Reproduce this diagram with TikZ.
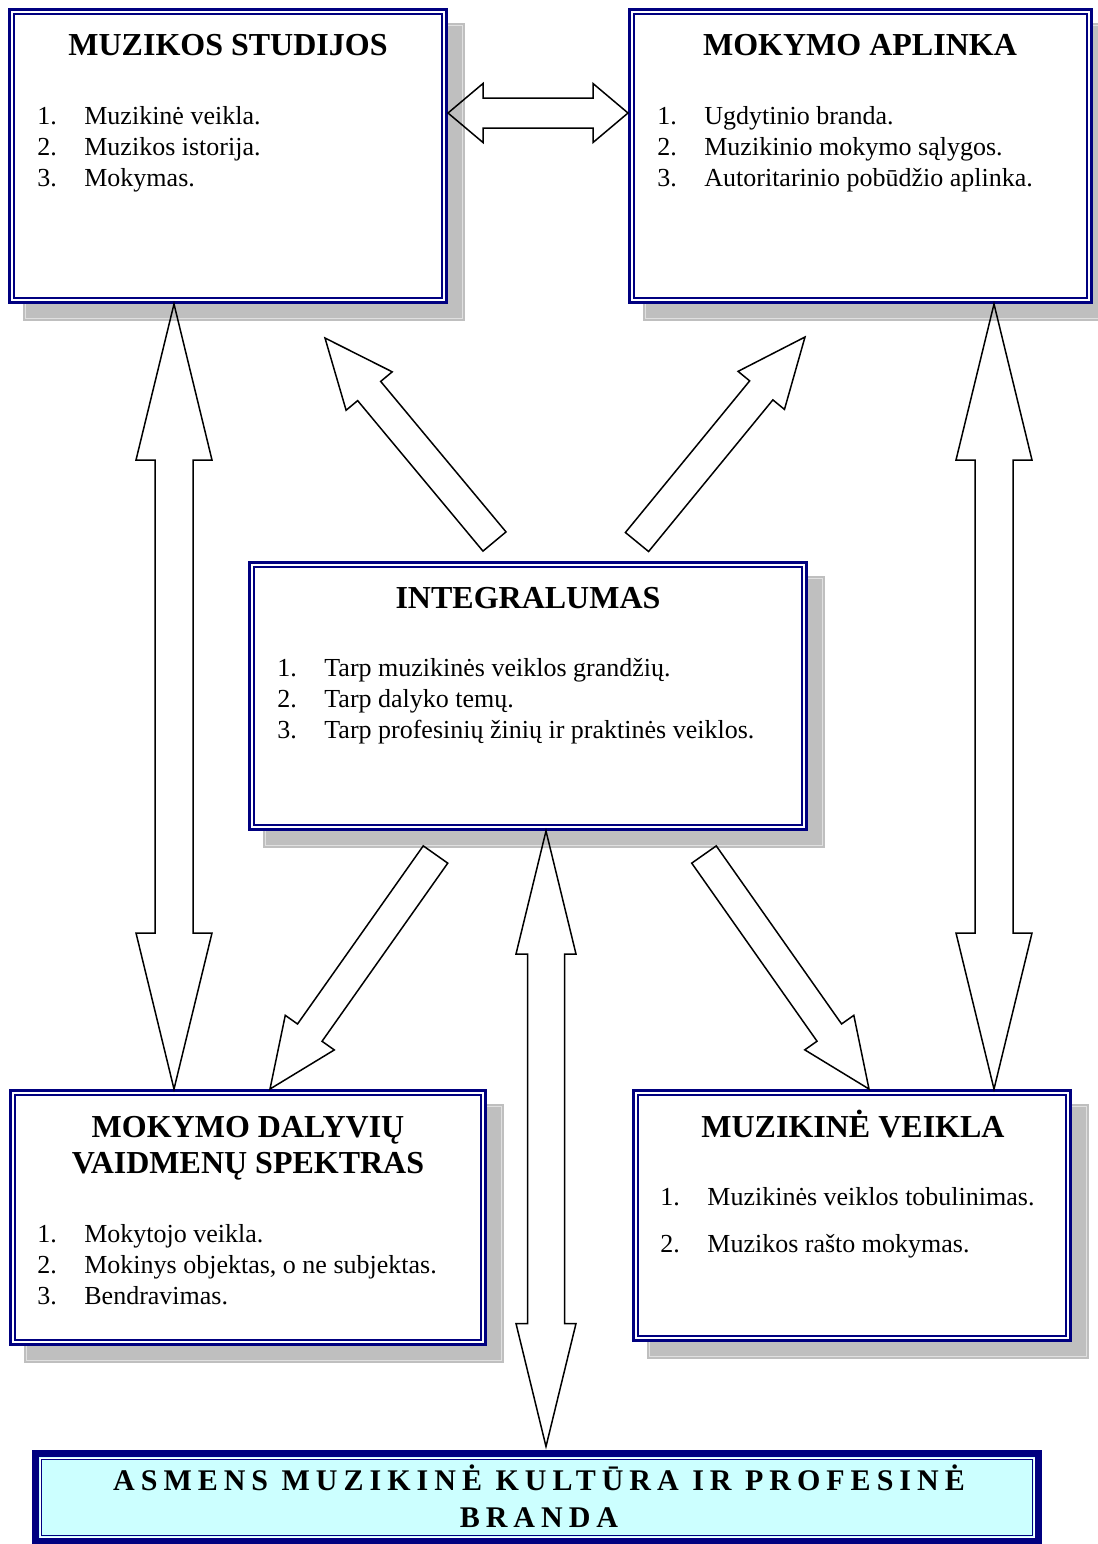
\documentclass[tikz,border=0pt]{standalone}
\usepackage{xcolor}
\usepackage{fontspec}
\setmainfont{Liberation Serif}
\newfontfamily\spacedfont[LetterSpace=20]{Liberation Serif}
\usepackage{tikz}
\usetikzlibrary{calc,shadows}
\definecolor{c_navy}{rgb}{0.0, 0.0, 0.5}
\definecolor{c_shadow}{rgb}{0.75, 0.75, 0.75}
\definecolor{c_shadowline}{rgb}{0.88, 0.88, 0.88}
\definecolor{c_cyan}{rgb}{0.8, 1.0, 1.0}
\tikzset{c-box/.style={rectangle, draw=c_navy, line width=1.5pt, fill=white, inner sep=0pt,
general shadow={shadow xshift=8pt, shadow yshift=-8pt, opacity=1, fill=c_shadow, draw=c_shadow, double=c_shadowline, double distance=0.5pt, line width=1pt},
path picture={\draw[c_navy, line width=0.75pt] ([shift={(2.25pt,2.25pt)}]path picture bounding box.south west) rectangle ([shift={(-2.25pt,-2.25pt)}]path picture bounding box.north east);}},
c-final/.style={rectangle, draw=c_navy, line width=3.5pt, fill=c_cyan, inner sep=0pt,
path picture={\draw[white, line width=0.5pt] ([shift={(2.25pt,2.25pt)}]path picture bounding box.south west) rectangle ([shift={(-2.25pt,-2.25pt)}]path picture bounding box.north east);
\draw[c_navy, line width=0.5pt] ([shift={(3pt,3pt)}]path picture bounding box.south west) rectangle ([shift={(-3pt,-3pt)}]path picture bounding box.north east);}},
c-title/.style={inner sep=0pt, font=\fontsize{16}{18}\selectfont\bfseries, align=center},
c-list/.style={inner sep=0pt, anchor=north west, font=\fontsize{13}{15.5}\selectfont, align=left},
blockarrow/.style={draw=black, line width=0.75pt, line join=miter}}
\newcommand{\itm}[2]{\makebox[23.5pt][l]{#1}#2}
\newcommand{\blkarrow}[5]{%
\coordinate (bh) at ($(#2)!#5!(#1)$);
\draw[blockarrow] ($(#1)!#3!90:(#2)$) -- ($(bh)!#3!90:(#2)$) -- ($(bh)!#4!90:(#2)$) -- (#2)
-- ($(bh)!#4!-90:(#2)$) -- ($(bh)!#3!-90:(#2)$) -- ($(#1)!#3!-90:(#2)$) -- cycle;}
\newcommand{\dblarrow}[5]{%
\coordinate (ba) at ($(#1)!#5!(#2)$);
\coordinate (bb) at ($(#2)!#5!(#1)$);
\draw[blockarrow] (#1) -- ($(ba)!#4!90:(#2)$) -- ($(ba)!#3!90:(#2)$) -- ($(bb)!#3!-90:(#1)$)
-- ($(bb)!#4!-90:(#1)$) -- (#2) -- ($(bb)!#4!90:(#1)$) -- ($(bb)!#3!90:(#1)$)
-- ($(ba)!#3!-90:(#2)$) -- ($(ba)!#4!-90:(#2)$) -- cycle;}

\begin{document}
\begin{tikzpicture}[x=0.5pt, y=-0.5pt]
\useasboundingbox (0,0) rectangle (1098,1544);
\node (studijos) [c-box, minimum width=218.5pt, minimum height=146.5pt] at (228,156) {};
\node (aplinka) [c-box, minimum width=231pt, minimum height=146.5pt] at (860.5,156) {};
\node (integral) [c-box, minimum width=278.5pt, minimum height=133.5pt] at (528,696) {};
\node (dalyviu) [c-box, minimum width=237.5pt, minimum height=127pt] at (248,1217.5) {};
\node (veikla) [c-box, minimum width=218.5pt, minimum height=125pt] at (852,1215.5) {};
\node (asmens) [c-final, minimum width=501.5pt, minimum height=44pt] at (537,1497.5) {};

\node (studijos-t) [c-title, anchor=base] at (228,55) {MUZIKOS STUDIJOS};
\node (studijos-l) [c-list] at (37,102.3) {\strut\itm{1.}{Muzikinė veikla.}\\
\itm{2.}{Muzikos istorija.}\\
\itm{3.}{Mokymas.}};
\node (aplinka-t) [c-title, anchor=base] at (860,55) {MOKYMO APLINKA};
\node (aplinka-l) [c-list] at (657,102.3) {\strut\itm{1.}{Ugdytinio branda.}\\
\itm{2.}{Muzikinio mokymo sąlygos.}\\
\itm{3.}{Autoritarinio pobūdžio aplinka.}};
\node (integral-t) [c-title, anchor=base] at (528,608) {INTEGRALUMAS};
\node (integral-l) [c-list] at (277,654.3) {\strut\itm{1.}{Tarp muzikinės veiklos grandžių.}\\
\itm{2.}{Tarp dalyko temų.}\\
\itm{3.}{Tarp profesinių žinių ir praktinės veiklos.}};
\node (dalyviu-t) [c-title, anchor=north] at (248,1112) {\strut MOKYMO DALYVIŲ\\
VAIDMENŲ SPEKTRAS};
\node (dalyviu-l) [c-list] at (37,1220.3) {\strut\itm{1.}{Mokytojo veikla.}\\
\itm{2.}{Mokinys objektas, o ne subjektas.}\\
\itm{3.}{Bendravimas.}};
\node (veikla-t) [c-title, anchor=base] at (853,1137) {MUZIKINĖ VEIKLA};
\node (veikla-l) [c-list] at (660,1183.3) {\strut\itm{1.}{Muzikinės veiklos tobulinimas.}\\[8pt]
\itm{2.}{Muzikos rašto mokymas.}};
\node (asmens-t) [inner sep=0pt, anchor=north, align=center, font=\fontsize{15}{18.5}\spacedfont\bfseries] at (539,1464) {\strut ASMENS MUZIKINĖ KULTŪRA IR PROFESINĖ\\
BRANDA};

\coordinate (h-a) at ([yshift=21.5pt]studijos.east);
\coordinate (h-b) at ([yshift=21.5pt]aplinka.west);
\coordinate (l-a) at ([xshift=-27pt]studijos.south);
\coordinate (l-b) at ([xshift=-37pt]dalyviu.north);
\coordinate (r-a) at ([xshift=66.75pt]aplinka.south);
\coordinate (r-b) at ([xshift=71pt]veikla.north);
\coordinate (c-a) at ([xshift=9pt]integral.south);
\coordinate (c-b) at ([xshift=4.5pt,yshift=1.75pt]asmens.north);
\coordinate (ul-tail) at (494.5,541.5);
\coordinate (ul-tip) at (325,338);
\coordinate (ur-tail) at (637,542);
\coordinate (ur-tip) at (805,337);
\coordinate (dl-tail) at (435.5,854.5);
\coordinate (dl-tip) at ([xshift=11pt]dalyviu.north);
\coordinate (dr-tail) at (704,854.5);
\coordinate (dr-tip) at ([xshift=8.5pt]veikla.north);

\dblarrow{h-a}{h-b}{7.5pt}{14.75pt}{17.5pt}
\dblarrow{l-a}{l-b}{9.5pt}{19pt}{78pt}
\dblarrow{r-a}{r-b}{9.5pt}{19pt}{78pt}
\dblarrow{c-a}{c-b}{9.25pt}{15pt}{61.5pt}
\blkarrow{ul-tail}{ul-tip}{7.5pt}{15pt}{34.5pt}
\blkarrow{ur-tail}{ur-tip}{7.5pt}{15pt}{34.5pt}
\blkarrow{dl-tail}{dl-tip}{7.5pt}{15pt}{34.5pt}
\blkarrow{dr-tail}{dr-tip}{7.5pt}{15pt}{34.5pt}
\end{tikzpicture}
\end{document}
